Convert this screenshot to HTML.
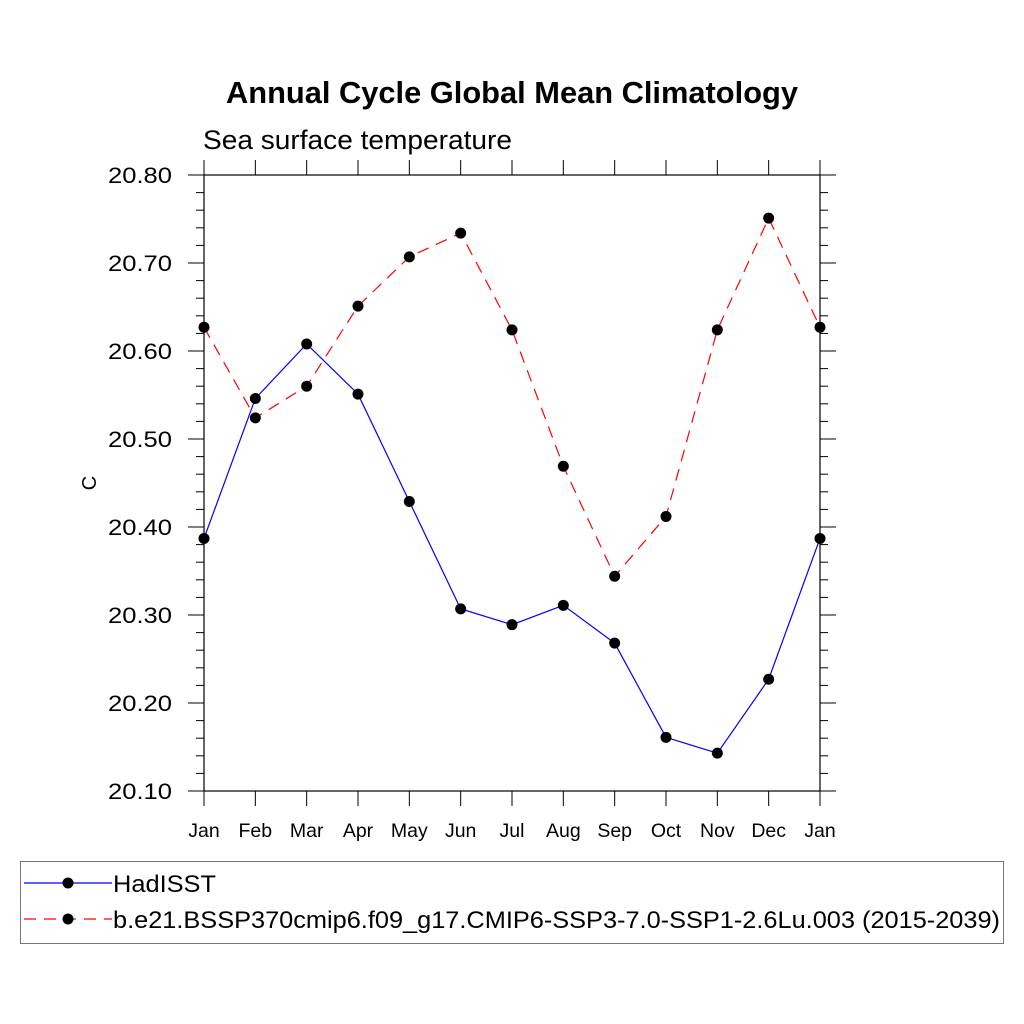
<!DOCTYPE html>
<html><head><meta charset="utf-8"><style>body{margin:0;background:#fff}svg{display:block;font-family:"Liberation Sans",sans-serif}</style></head>
<body>
<svg id="chart" width="1024" height="1024" xmlns="http://www.w3.org/2000/svg">
<text x="226" y="103" font-size="30.5" font-weight="bold" textLength="572" lengthAdjust="spacingAndGlyphs">Annual Cycle Global Mean Climatology</text>
<text x="203" y="149" font-size="27" textLength="309" lengthAdjust="spacingAndGlyphs">Sea surface temperature</text>
<text x="96" y="483" font-size="20" text-anchor="middle" transform="rotate(-90 96 483)">C</text>
<g id="axes"></g>
<g id="series"></g>
<g>
<rect x="20.5" y="861.5" width="983" height="82" fill="none" stroke="#777" stroke-width="1"/>
<line x1="24" y1="883" x2="112" y2="883" stroke="#0000ff" stroke-width="1.2"/>
<circle cx="68" cy="883" r="5.5" fill="#000"/>
<text x="113" y="892" font-size="24" textLength="103" lengthAdjust="spacingAndGlyphs">HadISST</text>
<line x1="24" y1="919" x2="112" y2="919" stroke="#ff0000" stroke-width="1.2" stroke-dasharray="12,8"/>
<circle cx="68" cy="919" r="5.5" fill="#000"/>
<text x="113" y="928" font-size="24" textLength="887" lengthAdjust="spacingAndGlyphs">b.e21.BSSP370cmip6.f09_g17.CMIP6-SSP3-7.0-SSP1-2.6Lu.003 (2015-2039)</text>
</g>
</svg>
<script>
const months=["Jan","Feb","Mar","Apr","May","Jun","Jul","Aug","Sep","Oct","Nov","Dec","Jan"];
const hadisst=[20.387,20.546,20.608,20.551,20.429,20.307,20.289,20.311,20.268,20.161,20.143,20.227,20.387];
const model=[20.627,20.524,20.560,20.651,20.707,20.734,20.624,20.469,20.344,20.412,20.624,20.751,20.627];
const yTicks=["20.10","20.20","20.30","20.40","20.50","20.60","20.70","20.80"];
const X0=204,X1=820,Y0=791,Y1=175,YMIN=20.1,YMAX=20.8;
const xs=i=>X0+(X1-X0)*i/(months.length-1);
const ys=v=>Y0-(v-YMIN)/(YMAX-YMIN)*(Y0-Y1);
const NS="http://www.w3.org/2000/svg";
function mk(t,a,p){const e=document.createElementNS(NS,t);for(const k in a)e.setAttribute(k,a[k]);p.appendChild(e);return e;}
const ax=document.getElementById('axes'),se=document.getElementById('series');
const frame=mk('rect',{x:X0,y:Y1,width:X1-X0,height:Y0-Y1,fill:'none',stroke:'#000','stroke-width':1.2},ax);


for(let v=0;v<=35;v++){const val=YMIN+v*0.02,y=ys(val),maj=v%5===0,l=maj?16:8;
mk('line',{x1:X0-l,y1:y,x2:X0,y2:y,stroke:'#000','stroke-width':1},ax);
mk('line',{x1:X1,y1:y,x2:X1+l,y2:y,stroke:'#000','stroke-width':1},ax);}
yTicks.forEach(t=>{const tx=mk('text',{x:172,y:ys(parseFloat(t))+8,'text-anchor':'end','font-size':22,textLength:64,lengthAdjust:'spacingAndGlyphs'},ax);tx.textContent=t;

});
months.forEach((m,i)=>{const x=xs(i);
mk('line',{x1:x,y1:Y0,x2:x,y2:Y0+15,stroke:'#000','stroke-width':1},ax);
mk('line',{x1:x,y1:Y1-15,x2:x,y2:Y1,stroke:'#000','stroke-width':1},ax);
const tx=mk('text',{x:x,y:837,'text-anchor':'middle','font-size':19.5},ax);tx.textContent=m;

});
function draw(d,color,dash,name){
const pl=mk('polyline',{points:d.map((v,i)=>xs(i)+','+ys(v)).join(' '),fill:'none',stroke:color,'stroke-width':1.2,'stroke-dasharray':dash},se);


d.forEach((v,i)=>{const c=mk('circle',{cx:xs(i),cy:ys(v),r:5.5,fill:'#000'},se);

});}
draw(hadisst,'#0000ff','none','hadisst');
draw(model,'#ff0000','12,8','model');
</script>
</body></html>
